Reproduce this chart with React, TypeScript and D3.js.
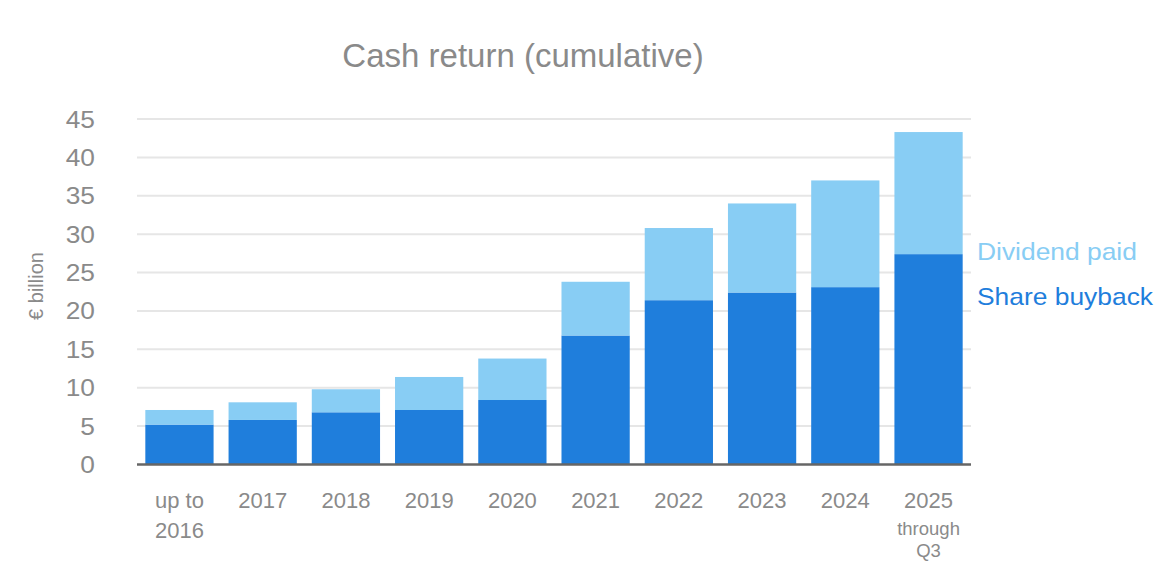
import React from "react";
import * as d3 from "d3";

const categories = ["up to\n2016", "2017", "2018", "2019", "2020", "2021", "2022", "2023", "2024", "2025"];
const categoryNotes = ["", "", "", "", "", "", "", "", "", "through\nQ3"];
const shareBuyback = [5.2, 5.8, 6.8, 7.1, 8.4, 16.8, 21.4, 22.4, 23.1, 27.4];
const dividendPaid = [1.9, 2.3, 3.0, 4.3, 5.4, 7.0, 9.4, 11.6, 13.9, 15.9];
const yTicks = [0, 5, 10, 15, 20, 25, 30, 35, 40, 45];
const seriesNames = ["Share buyback", "Dividend paid"];

const W = 1172;
const H = 574;
const BUY = "#1f7edc";
const DIV = "#88cdf4";
const GREY = "#8a8a8a";
const FONT = "'Liberation Sans', Arial, Helvetica, sans-serif";

export default function App() {
  const x = d3.scaleBand<string>().domain(categories).range([137, 971]).paddingInner(0.18).paddingOuter(0.1);
  const y = d3.scaleLinear().domain([0, 45]).range([464.5, 119]);

  const rows = categories.map((c, i) => ({ cat: c, buy: shareBuyback[i], div: dividendPaid[i] }));
  const stack = d3.stack<any>().keys(["buy", "div"]);
  const layers = stack(rows);
  const colors = [BUY, DIV];

  const legendX = x.range()[1] + 6;

  return (
    <svg width={W} height={H} style={{ position: "absolute", left: 0, top: 0, background: "#fff" }} fontFamily={FONT}>
      <rect x={0} y={0} width={W} height={H} fill="#fff" />
      <text x={523} y={66.5} textAnchor="middle" fontSize={33} fill={GREY}>
        Cash return (cumulative)
      </text>

      {yTicks.map((t) => (
        <g key={t}>
          {t > 0 && <line x1={137} x2={971} y1={y(t)} y2={y(t)} stroke="#e6e6e6" strokeWidth={2} />}
          <g transform={`translate(95,${y(t) + 8.5})`}>
            <text x={0} y={0} textAnchor="end" fontSize={23.5} fill={GREY} transform="scale(1.12,1)">
              {t}
            </text>
          </g>
        </g>
      ))}

      <text transform={`translate(43,286) rotate(-90)`} textAnchor="middle" fontSize={20} fill={GREY}>
        € billion
      </text>

      {layers.map((layer, li) => (
        <g key={li} fill={colors[li]}>
          {layer.map((d: any, i: number) => (
            <rect
              key={i}
              x={x(categories[i])}
              width={x.bandwidth()}
              y={y(d[1])}
              height={y(d[0]) - y(d[1])}
            />
          ))}
        </g>
      ))}

      <line x1={137} x2={971} y1={y(0)} y2={y(0)} stroke="#666" strokeWidth={2.5} />

      {categories.map((c, i) => {
        const cx = (x(c) as number) + x.bandwidth() / 2;
        const lines = c.split("\n");
        const notes = categoryNotes[i] ? categoryNotes[i].split("\n") : [];
        return (
          <g key={c}>
            {lines.map((l, j) => (
              <text key={j} x={cx} y={508 + j * 30} textAnchor="middle" fontSize={22} fill={GREY}>
                {l}
              </text>
            ))}
            {notes.map((l, j) => (
              <text key={"n" + j} x={cx} y={535 + j * 22} textAnchor="middle" fontSize={18.5} fill={GREY}>
                {l}
              </text>
            ))}
          </g>
        );
      })}

      <g transform={`translate(${legendX},260)`}>
        <text x={0} y={0} fontSize={24} fill={DIV} transform="scale(1.1,1)">
          {seriesNames[1]}
        </text>
      </g>
      <g transform={`translate(${legendX},305)`}>
        <text x={0} y={0} fontSize={24} fill={BUY} transform="scale(1.1,1)">
          {seriesNames[0]}
        </text>
      </g>
    </svg>
  );
}
